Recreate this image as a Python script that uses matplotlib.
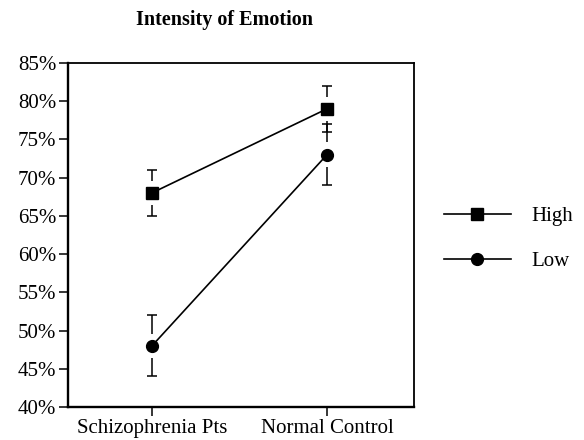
import matplotlib
matplotlib.use("Agg")
import matplotlib.pyplot as plt
from matplotlib.lines import Line2D
from matplotlib.ticker import FuncFormatter

groups = ["Schizophrenia Pts", "Normal Control"]
high = [68, 79]
high_err = [3, 3]
low = [48, 73]
low_err = [4, 4]
yticks = [40, 45, 50, 55, 60, 65, 70, 75, 80, 85]

plt.rcParams["font.family"] = ["Liberation Serif", "DejaVu Serif"]

fig = plt.figure(figsize=(5.84, 4.40), dpi=100)
ax = fig.add_axes([0.1164, 0.075, 0.5925, 0.782])

x = list(range(len(groups)))
gap = 1.6  # space left between marker and error bar


def draw_series(vals, errs, marker, label):
    ax.plot(x, vals, color="black", lw=1.2, marker=marker, ms=8.5,
            mfc="black", mec="black", label=label, zorder=3)
    for xi, v, e in zip(x, vals, errs):
        ax.vlines(xi, v + gap, v + e, color="black", lw=1.1)
        ax.vlines(xi, v - e, v - gap, color="black", lw=1.1)
        ax.plot([xi, xi], [v + e, v - e], ls="none", marker="_", ms=7,
                mew=1.1, color="black")


draw_series(high, high_err, "s", "High")
draw_series(low, low_err, "o", "Low")

ax.set_xlim(-0.48, 1.497)
ax.set_ylim(40, 85)
ax.set_xticks(x)
ax.set_xticklabels(groups)
ax.set_yticks(yticks)
ax.yaxis.set_major_formatter(FuncFormatter(lambda v, p: f"{v:.0f}%"))
ax.tick_params(axis="both", direction="out", length=6.5, width=1.1,
               labelsize=15, colors="black", pad=2)

for side in ["left", "bottom"]:
    ax.spines[side].set_linewidth(1.7)
for side in ["top", "right"]:
    ax.spines[side].set_linewidth(1.3)

fig.text(225 / 584, 1 - 20 / 440, "Intensity of Emotion", ha="center",
         va="center", fontsize=14.5, fontweight="bold")

handles = [
    Line2D([], [], color="black", lw=1.2, marker="s", ms=8.5),
    Line2D([], [], color="black", lw=1.2, marker="o", ms=8.5),
]
fig.legend(handles, ["High", "Low"], loc="center left",
           bbox_to_anchor=(0.728, 0.457), frameon=False, fontsize=15,
           handlelength=3.2, handletextpad=1.0, labelspacing=1.2)

fig.savefig("out.png", dpi=100)
